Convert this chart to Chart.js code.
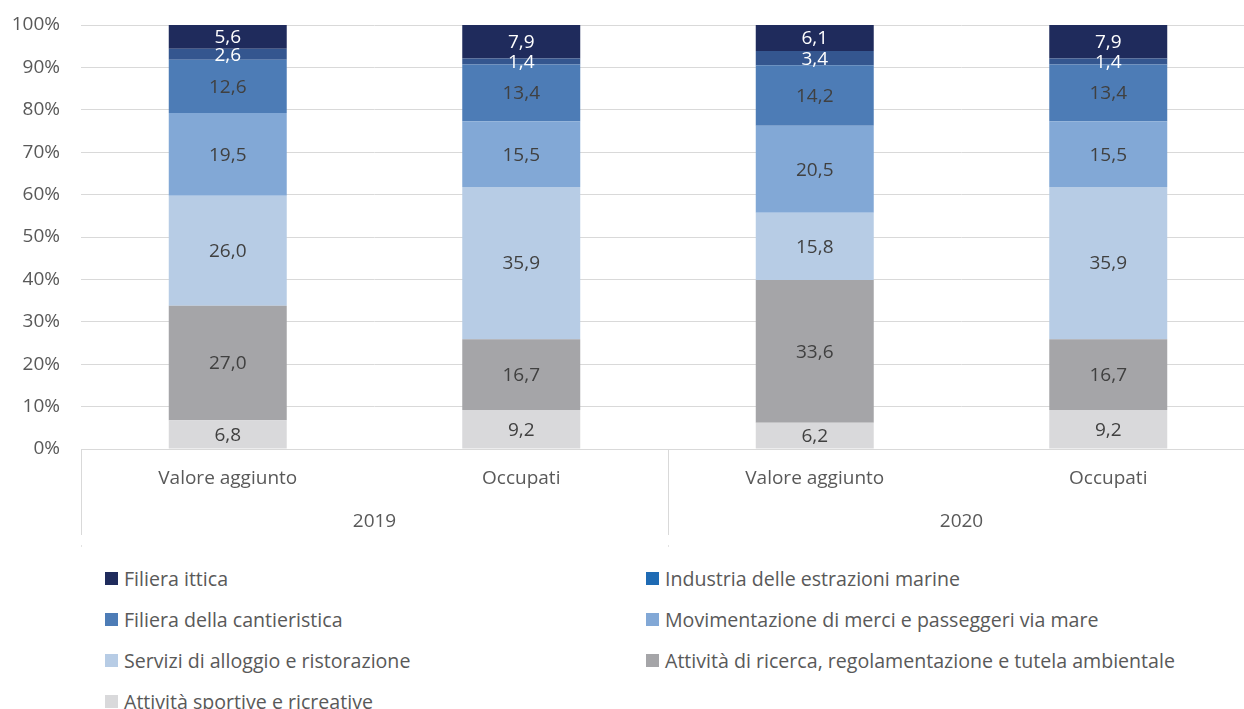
<!DOCTYPE html>
<html>
<head>
<meta charset="utf-8">
<script src="https://cdn.jsdelivr.net/npm/chart.js@4"></script>
<style>
  html, body { margin: 0; padding: 0; background: #fff; overflow: hidden; width: 1244px; height: 709px; }
  #wrap { position: absolute; left: 0; top: 0; width: 1255px; height: 555px; }
  #legend { position: absolute; left: 0; top: 558px; width: 1244px; font-family: "Open Sans", "Liberation Sans", sans-serif; font-size: 19.6px; color: #595959; }
  .row { position: absolute; height: 41px; display: flex; align-items: center; white-space: nowrap; }
  .sw { width: 13px; height: 13px; margin-right: 6px; flex: none; }
</style>
</head>
<body>
<div id="wrap"><canvas id="c" width="1255" height="555"></canvas></div>
<div id="legend"></div>
<script>
// ---- data ----
const categories = ["Valore aggiunto", "Occupati", "Valore aggiunto", "Occupati"];
const groups = ["2019", "2020"];
const yTicks = [0, 10, 20, 30, 40, 50, 60, 70, 80, 90, 100];

const seriesNames = [
  "Attività sportive e ricreative",
  "Attività di ricerca, regolamentazione e tutela ambientale",
  "Servizi di alloggio e ristorazione",
  "Movimentazione di merci e passeggeri via mare",
  "Filiera della cantieristica",
  "Industria delle estrazioni marine",
  "Filiera ittica"
];
const sportive       = [6.8, 9.2, 6.2, 9.2];
const ricerca        = [27.0, 16.7, 33.6, 16.7];
const servizi        = [26.0, 35.9, 15.8, 35.9];
const movimentazione = [19.5, 15.5, 20.5, 15.5];
const cantieristica  = [12.6, 13.4, 14.2, 13.4];
const estrazioni     = [2.6, 1.4, 3.4, 1.4];
const ittica         = [5.6, 7.9, 6.1, 7.9];

// ---- styles ----
const barColors    = ["#D9D9DB", "#A5A5A8", "#B7CCE5", "#82A8D6", "#4D7CB6", "#34568F", "#1F2B5C"];
const legendColors = ["#D9D9DB", "#A5A5A8", "#B7CCE5", "#82A8D6", "#4D7CB6", "#1F6BB4", "#1F2B5C"];
const labelColors  = ["#404040", "#404040", "#404040", "#404040", "#404040", "#FFFFFF", "#FFFFFF"];
const legendOrder  = [6, 5, 4, 3, 2, 1, 0];
const FONT = "'Open Sans', 'Liberation Sans', sans-serif";
const FS = 19;

const raw = [sportive, ricerca, servizi, movimentazione, cantieristica, estrazioni, ittica];
const totals = categories.map((_, i) => raw.reduce((s, arr) => s + arr[i], 0));

const datasets = raw.map((arr, k) => ({
  label: seriesNames[k],
  data: arr.map((v, i) => v / totals[i] * 100),
  rawData: arr,
  backgroundColor: barColors[k],
  borderWidth: 0,
  xAxisID: "x",
  stack: "s",
  categoryPercentage: 1,
  barPercentage: 0.402
}));

const labelPlugin = {
  id: "segLabels",
  afterDatasetsDraw(chart) {
    const ctx = chart.ctx;
    ctx.save();
    ctx.font = FS + "px " + FONT;
    ctx.textAlign = "center";
    ctx.textBaseline = "middle";
    chart.data.datasets.forEach((ds, k) => {
      const meta = chart.getDatasetMeta(k);
      meta.data.forEach((el, i) => {
        const v = ds.rawData[i];
        ctx.fillStyle = labelColors[k];
        ctx.fillText(v.toFixed(1).replace(".", ","), el.x, (el.y + el.base) / 2 + 1);
      });
    });
    ctx.restore();
  }
};

const sepPlugin = {
  id: "groupSeparators",
  afterDraw(chart) {
    const x = chart.scales.x, x2 = chart.scales.x2;
    const ctx = chart.ctx;
    const xs = [x.left, (x.getPixelForValue(1) + x.getPixelForValue(2)) / 2, x.right];
    const top = chart.chartArea.bottom;
    const bottom = x2.bottom;
    ctx.save();
    ctx.strokeStyle = "#D9D9D9";
    ctx.lineWidth = 1;
    xs.forEach(px => {
      const p = Math.round(px) + 0.5;
      ctx.beginPath();
      ctx.moveTo(p, top);
      ctx.lineTo(p, bottom);
      ctx.stroke();
      ctx.fillStyle = "#E3E3E3";
      ctx.fillRect(Math.round(px), bottom + 10, 1, 2);
    });
    ctx.restore();
  }
};

const chart = new Chart(document.getElementById("c"), {
  type: "bar",
  data: { labels: categories, datasets },
  options: {
    responsive: false,
    animation: false,
    layout: { padding: { top: 25, left: 0, right: 0, bottom: 20 } },
    plugins: { legend: { display: false }, tooltip: { enabled: false } },
    scales: {
      x: {
        type: "category",
        stacked: true,
        offset: true,
        grid: { display: false, drawTicks: false },
        border: { display: true, color: "#D9D9D9", width: 1 },
        ticks: { color: "#595959", font: { size: FS, family: FONT }, padding: 18, maxRotation: 0 },
        afterFit(s) { s.height = 39; }
      },
      x2: {
        type: "category",
        position: "bottom",
        labels: groups,
        offset: true,
        grid: { display: false, drawTicks: false },
        border: { display: false },
        ticks: { color: "#595959", font: { size: FS, family: FONT }, padding: 22, maxRotation: 0 },
        afterFit(s) { s.height = 47; }
      },
      y: {
        stacked: true,
        min: 0,
        max: 100,
        afterBuildTicks(s) { s.ticks = yTicks.map(v => ({ value: v })); },
        grid: { color: "#D9D9D9", lineWidth: 1, drawTicks: true, tickLength: 21, tickColor: "rgba(0,0,0,0)" },
        border: { display: false },
        ticks: { color: "#595959", font: { size: FS, family: FONT }, padding: 0, callback: v => v + "%" },
        afterFit(s) { s.width = 81; }
      }
    }
  },
  plugins: [labelPlugin, sepPlugin]
});

// HTML legend built from the chart's datasets
const legendEl = document.getElementById("legend");
legendOrder.forEach((k, n) => {
  const row = document.createElement("div");
  row.className = "row";
  row.style.left = (n % 2 === 0 ? 105 : 646) + "px";
  row.style.top = (Math.floor(n / 2) * 41) + "px";
  const sw = document.createElement("span");
  sw.className = "sw";
  sw.style.background = legendColors[k];
  const tx = document.createElement("span");
  tx.textContent = chart.data.datasets[k].label;
  row.appendChild(sw);
  row.appendChild(tx);
  legendEl.appendChild(row);
});
</script>
</body>
</html>
